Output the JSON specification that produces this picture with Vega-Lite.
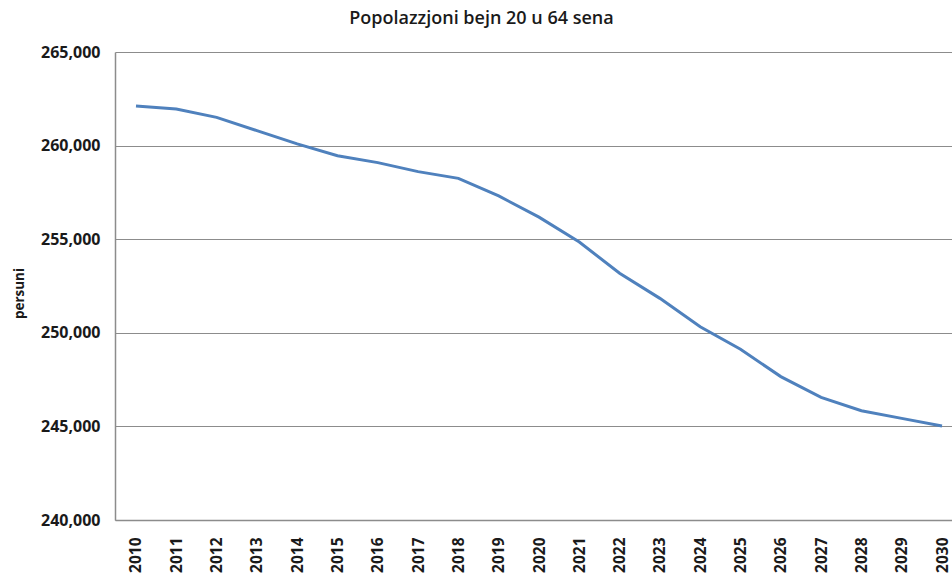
{
  "$schema": "https://vega.github.io/schema/vega-lite/v6.json",
  "width": 837,
  "height": 468,
  "autosize": "none",
  "padding": {"left": 115, "top": 52, "right": 0, "bottom": 58},
  "background": "white",
  "title": {
    "text": "Popolazzjoni bejn 20 u 64 sena",
    "font": "Open Sans",
    "fontSize": 18,
    "fontWeight": 600,
    "color": "#1a1a1a",
    "anchor": "middle",
    "dx": -52,
    "dy": 26,
    "baseline": "bottom",
    "offset": 24
  },
  "data": {
    "values": [
      {"year": 2010, "value": 262115},
      {"year": 2011, "value": 261955},
      {"year": 2012, "value": 261510},
      {"year": 2013, "value": 260800},
      {"year": 2014, "value": 260090},
      {"year": 2015, "value": 259460},
      {"year": 2016, "value": 259090},
      {"year": 2017, "value": 258610},
      {"year": 2018, "value": 258250},
      {"year": 2019, "value": 257310},
      {"year": 2020, "value": 256180},
      {"year": 2021, "value": 254850},
      {"year": 2022, "value": 253180},
      {"year": 2023, "value": 251840},
      {"year": 2024, "value": 250320},
      {"year": 2025, "value": 249120},
      {"year": 2026, "value": 247660},
      {"year": 2027, "value": 246550},
      {"year": 2028, "value": 245840},
      {"year": 2029, "value": 245430},
      {"year": 2030, "value": 245020}
    ]
  },
  "mark": {"type": "line", "color": "#4F81BD", "strokeWidth": 3, "clip": true},
  "encoding": {
    "x": {
      "field": "year",
      "type": "quantitative",
      "scale": {"domain": [2009.479, 2030.248], "nice": false, "zero": false},
      "axis": {
        "values": [2010, 2011, 2012, 2013, 2014, 2015, 2016, 2017, 2018, 2019, 2020, 2021, 2022, 2023, 2024, 2025, 2026, 2027, 2028, 2029, 2030],
        "format": "d",
        "title": null,
        "grid": false,
        "ticks": false,
        "domainColor": "#8c8c8c",
        "domainWidth": 1.5,
        "labelAngle": 270,
        "labelAlign": "right",
        "labelBaseline": "middle",
        "labelPadding": 17,
        "labelFont": "Open Sans",
        "labelFontSize": 15.5,
        "labelFontWeight": "bold",
        "labelColor": "#1a1a1a",
        "labelFlush": false,
        "labelOverlap": false
      }
    },
    "y": {
      "field": "value",
      "type": "quantitative",
      "scale": {"domain": [240000, 265000], "nice": false, "zero": false},
      "axis": {
        "values": [240000, 245000, 250000, 255000, 260000, 265000],
        "format": ",.0f",
        "title": "persuni",
        "titleFont": "Open Sans",
        "titleFontSize": 13.5,
        "titleFontWeight": "bold",
        "titleColor": "#1a1a1a",
        "titleAngle": 270,
        "titleX": -96,
        "titleY": 241,
        "titleAlign": "center",
        "titleBaseline": "middle",
        "grid": true,
        "gridColor": "#8c8c8c",
        "gridWidth": 1.2,
        "ticks": false,
        "domainColor": "#8c8c8c",
        "domainWidth": 1.5,
        "labelPadding": 15,
        "labelFont": "Open Sans",
        "labelFontSize": 16,
        "labelFontWeight": "bold",
        "labelColor": "#1a1a1a",
        "labelFlush": false
      }
    }
  },
  "config": {
    "view": {"stroke": null}
  }
}
